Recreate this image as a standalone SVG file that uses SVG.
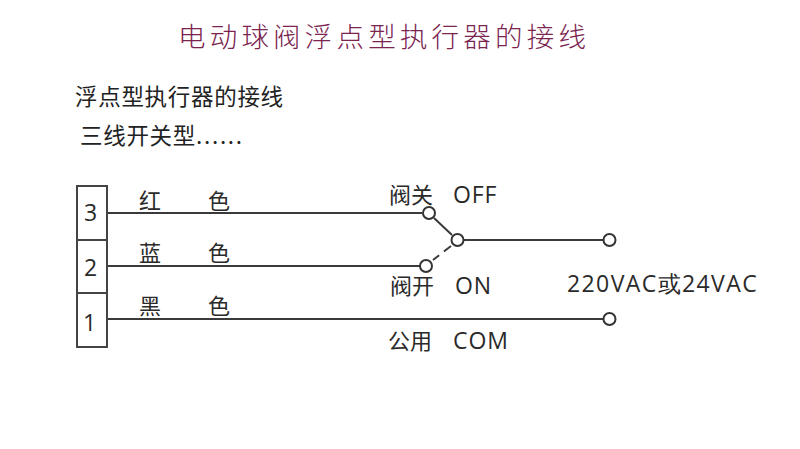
<svg xmlns="http://www.w3.org/2000/svg" width="800" height="449" viewBox="0 0 800 449">
<style>
text{font-family:"Noto Sans CJK SC","Noto Sans",sans-serif;fill:#2a2a2a}
.title{font-size:27.500px;letter-spacing:4.200px;fill:#7b2450;font-weight:300}
.sub{font-size:22.500px;letter-spacing:.7px;font-weight:400;fill:#222}
.dots{letter-spacing:1.700px}
.lb{font-size:22px;font-weight:400}
.la{font-family:"Open Sans","Noto Sans",sans-serif;font-size:23px;letter-spacing:.9px}
.v{letter-spacing:1.400px}
.w{fill:none;stroke:#3a3a3a;stroke-width:2}
.t{fill:#fff;stroke:#333;stroke-width:2}
.box{fill:#fff;stroke:#444;stroke-width:2}
</style>
<rect width="800" height="449" fill="#fff"/>
<text class="title" x="178" y="47">电动球阀浮点型执行器的接线</text>
<text class="sub" x="75" y="105">浮点型执行器的接线</text>
<text class="sub" x="80" y="144">三线开关型<tspan class="dots">......</tspan></text>
<g id="connectors">
<path class="w" d="M107 213H422"/>
<path class="w" d="M107 266H420"/>
<path class="w" d="M107 319H604"/>
<path class="w" d="M434 218L452 235"/>
<path class="w" d="M451 246L433 260" stroke-dasharray="9 6"/>
<path class="w" d="M463 240H604"/>
</g>
<g id="terminal-3"><rect class="box" x="77" y="186" width="30" height="54"/><text class="la" x="91" y="221" text-anchor="middle">3</text></g>
<g id="terminal-2"><rect class="box" x="77" y="240" width="30" height="53"/><text class="la" x="91" y="276" text-anchor="middle">2</text></g>
<g id="terminal-1"><rect class="box" x="77" y="293" width="30" height="54"/><text class="la" x="90" y="331" text-anchor="middle">1</text></g>
<g id="contact-off"><circle class="t" cx="429" cy="213" r="6"/></g>
<g id="contact-on"><circle class="t" cx="426" cy="266" r="6"/></g>
<g id="contact-common"><circle class="t" cx="457.500" cy="240" r="6"/></g>
<g id="output-l"><circle class="t" cx="609.500" cy="240" r="6"/></g>
<g id="output-n"><circle class="t" cx="609.500" cy="319" r="6"/></g>
<g id="labels">
<text class="lb" x="139" y="209">红</text><text class="lb" x="208" y="209">色</text>
<text class="lb" x="139" y="261">蓝</text><text class="lb" x="208" y="261">色</text>
<text class="lb" x="139" y="314">黑</text><text class="lb" x="208" y="314">色</text>
<text class="lb" x="389" y="203">阀关</text><text class="la" x="453" y="203">OFF</text>
<text class="lb" x="390" y="294">阀开</text><text class="la" x="455" y="294">ON</text>
<text class="lb" x="388" y="349">公用</text><text class="la" x="453" y="349">COM</text>
<text class="la v" x="567" y="292">220VAC或24VAC</text>
</g>
</svg>
